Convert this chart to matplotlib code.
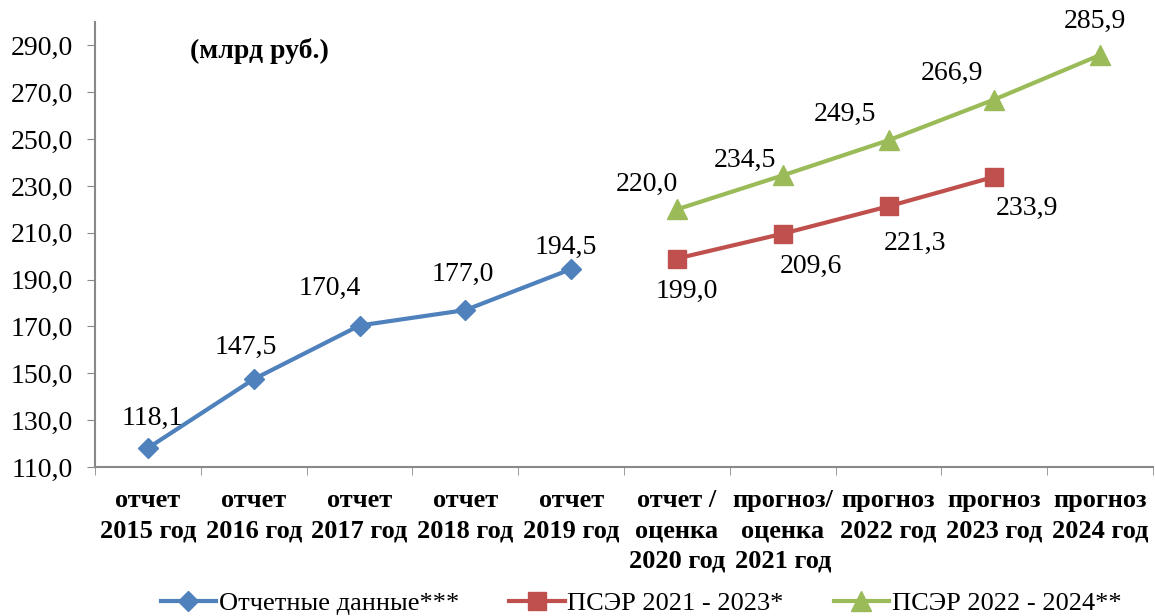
import numpy as np
import matplotlib.pyplot as plt

plt.rcParams['font.family'] = ['Liberation Serif', 'DejaVu Serif']

categories = ['отчет\n2015 год', 'отчет\n2016 год', 'отчет\n2017 год', 'отчет\n2018 год',
              'отчет\n2019 год', 'отчет /\nоценка\n2020 год', 'прогноз/\nоценка\n2021 год',
              'прогноз\n2022 год', 'прогноз\n2023 год', 'прогноз\n2024 год']
fact_idx = [0, 1, 2, 3, 4]
fact_vals = [118.1, 147.5, 170.4, 177.0, 194.5]
psr21_idx = [5, 6, 7, 8]
psr21_vals = [199.0, 209.6, 221.3, 233.9]
psr22_idx = [5, 6, 7, 8, 9]
psr22_vals = [220.0, 234.5, 249.5, 266.9, 285.9]
yticks = np.arange(110, 300, 20)

# label offsets in pixels (dx, dy)
fact_off = [(4, 30), (-8, 32), (-30, 37), (-3, 36), (-5, 22)]
psr21_off = [(10, -33), (28, -33), (26, -37), (33, -32)]
psr22_off = [(-30, 25), (-38, 15), (-44, 26), (-42, 26), (-5, 34)]

fig = plt.figure(figsize=(11.55, 6.16), dpi=100)
ax = fig.add_axes([0.0823, 0.2419, 0.916, 0.7224])

series = [
    (fact_idx, fact_vals, fact_off, '#4F81BD', 'D', 10, 'Отчетные данные***'),
    (psr21_idx, psr21_vals, psr21_off, '#C0504D', 's', 13, 'ПСЭР 2021 - 2023*'),
    (psr22_idx, psr22_vals, psr22_off, '#9BBB59', '^', 14, 'ПСЭР 2022 - 2024**'),
]
for idx, vals, offs, col, mk, ms, lab in series:
    ax.plot(idx, vals, color=col, lw=3, marker=mk, ms=ms, label=lab)
    for i, v, (dx, dy) in zip(idx, vals, offs):
        ax.annotate(('%.1f' % v).replace('.', ','), (i, v), xytext=(dx, dy),
                    textcoords='offset pixels', ha='center', va='center', fontsize=20)

ax.set_xlim(-0.5, len(categories) - 0.5)
ax.set_ylim(110, 300)
ax.set_yticks(yticks)
ax.set_yticklabels([('%.1f' % t).replace('.', ',') for t in yticks], fontsize=20)
ax.set_xticks(np.arange(len(categories)))
ax.set_xticklabels(categories, fontsize=19, fontweight='bold', va='top', linespacing=1.4)
ax.set_xticks(np.arange(len(categories) + 1) - 0.5, minor=True)
ax.tick_params(axis='x', which='major', length=0, pad=16)
ax.tick_params(axis='x', which='minor', length=6, color='#888888')
ax.tick_params(axis='y', length=6, color='#888888', pad=10)
for s in ['top', 'right']:
    ax.spines[s].set_visible(False)
for s in ['left', 'bottom']:
    ax.spines[s].set_color('#888888')
    ax.spines[s].set_linewidth(1.5)

ax.text(0.155, 0.935, '(млрд руб.)', transform=ax.transAxes, ha='center', va='center',
        fontsize=20, fontweight='bold')

fig.legend(loc='center', bbox_to_anchor=(0.555, 0.02), ncol=3, frameon=False,
           prop={'family': 'Liberation Serif', 'size': 19},
           handlelength=2.1, columnspacing=1.9, handletextpad=0.1,
           borderaxespad=0, borderpad=0)

plt.savefig('out.png', dpi=100)
